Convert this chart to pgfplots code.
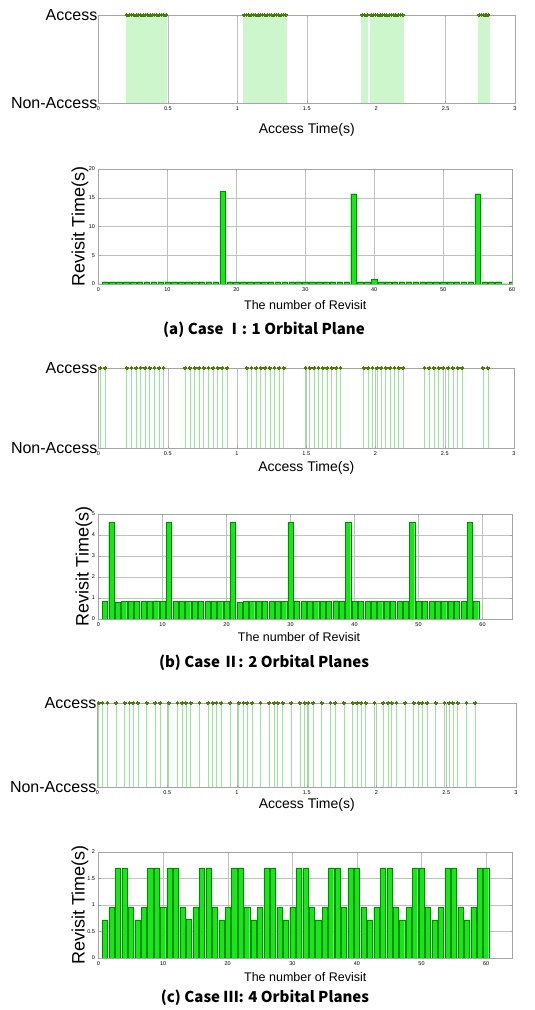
\documentclass[border=0pt]{standalone}
\usepackage{pgfplots}
\pgfplotsset{compat=1.18}
\usepackage{fontspec}
\setmainfont{Liberation Sans}
\newfontfamily\capfont{Noto Sans CJK KR}

\definecolor{stemc}{RGB}{150,232,150}
\definecolor{stemd}{RGB}{205,246,205}
\definecolor{dotc}{RGB}{70,125,0}
\definecolor{barfill}{RGB}{25,230,25}
\definecolor{baredge}{RGB}{0,140,0}
\definecolor{framec}{RGB}{165,165,165}

\pgfplotsset{
  base/.style={scale only axis, anchor=south west,
    axis line style={framec}, every tick/.style={framec},
    tick align=inside, major tick length=2pt,
    grid style={framec!70, line width=0.4pt},
    /pgf/number format/assume math mode=true,
    tick label style={font=\fontsize{5.5}{6}\selectfont},
    scaled ticks=false},
  acc/.style={base, xmin=0, xmax=3, ymin=0, ymax=1,
    xtick={0,0.5,1,1.5,2,2.5,3}, xticklabels={0,0.5,1,1.5,2,2.5,3},
    ytick={0,1}, yticklabels={Non-Access,Access},
    yticklabel style={font=\fontsize{16}{16}\selectfont, inner sep=1pt},
    xmajorgrids, xlabel={Access Time(s)},
    xlabel style={font=\fontsize{14}{14}\selectfont, anchor=center}},
  rev/.style={base, xmin=0, ymin=0, xtick={0,10,...,60}, grid=major,
    xlabel={The number of Revisit}, ylabel={Revisit Time(s)},
    xlabel style={font=\fontsize{12.5}{12.5}\selectfont, anchor=center},
    ylabel style={font=\fontsize{18}{18}\selectfont, anchor=center}},
  stem/.style={ycomb, stemc, line width=0.8pt, mark=*, mark size=1.4pt,
    mark options={draw=dotc, fill=dotc, line width=0pt}},
  bars/.style={ybar, bar width=0.8, fill=barfill, draw=baredge, line width=0.3pt}
}

\begin{document}
\begin{tikzpicture}
\useasboundingbox (0,0) rectangle (535pt,1010pt);

% ---------- (a) access ----------
\begin{axis}[acc, at={(98.5pt,907pt)}, width=416.5pt, height=88pt,
  xlabel style={at={(axis description cs:0.5,-0.307)}}]
\addplot[stem, stemd, line width=2.5pt] coordinates {
(0.204,1)(0.221,1)(0.237,1)(0.254,1)(0.271,1)(0.287,1)(0.304,1)(0.321,1)(0.337,1)
(0.354,1)(0.371,1)(0.387,1)(0.404,1)(0.421,1)(0.437,1)(0.454,1)(0.471,1)(0.487,1)
(1.049,1)(1.066,1)(1.082,1)(1.099,1)(1.116,1)(1.132,1)(1.149,1)(1.166,1)(1.182,1)(1.199,1)
(1.216,1)(1.232,1)(1.249,1)(1.266,1)(1.282,1)(1.299,1)(1.316,1)(1.332,1)(1.349,1)
(1.900,1)(1.917,1)(1.934,1)
(1.963,1)(1.979,1)(1.995,1)(2.012,1)(2.028,1)(2.044,1)(2.061,1)(2.077,1)(2.093,1)(2.110,1)
(2.126,1)(2.142,1)(2.158,1)(2.175,1)(2.191,1)
(2.743,1)(2.759,1)(2.775,1)(2.791,1)(2.793,1)(2.808,1)};
\node[font=\fontsize{5}{5}\selectfont] at (axis description cs:0.975,-0.284) {x\,10\textsuperscript{4}};
\end{axis}

% ---------- (a) revisit ----------
\begin{axis}[rev, at={(98.5pt,726pt)}, width=413.5pt, height=115pt,
  xmax=60, ymax=20, ytick={0,5,10,15,20},
  xlabel style={at={(axis description cs:0.5,-0.183)}},
  ylabel style={at={(axis description cs:-0.0447,0.5)}}]
\addplot[bars] coordinates {
(1,0.4)(2,0.4)(3,0.4)(4,0.4)(5,0.4)(6,0.4)(7,0.4)(8,0.4)(9,0.4)(10,0.4)
(11,0.4)(12,0.4)(13,0.4)(14,0.4)(15,0.4)(16,0.4)(17,0.4)(18,16.1)(19,0.4)(20,0.4)
(21,0.4)(22,0.4)(23,0.4)(24,0.4)(25,0.4)(26,0.4)(27,0.4)(28,0.4)(29,0.4)(30,0.4)
(31,0.4)(32,0.4)(33,0.4)(34,0.4)(35,0.4)(36,0.4)(37,15.7)(38,0.4)(39,0.4)(40,0.8)
(41,0.4)(42,0.4)(43,0.4)(44,0.4)(45,0.4)(46,0.4)(47,0.4)(48,0.4)(49,0.4)(50,0.4)
(51,0.4)(52,0.4)(53,0.4)(54,0.4)(55,15.7)(56,0.4)(57,0.4)(58,0.4)(59,0.05)(60,0.4)};
\end{axis}

\node[font=\capfont\bfseries\fontsize{15}{15}\selectfont] at (264pt,680pt) {(a) Case Ⅰ: 1 Orbital Plane};

% ---------- (b) access ----------
\begin{axis}[acc, at={(98.5pt,562pt)}, width=415.5pt, height=80pt,
  xlabel style={at={(axis description cs:0.5,-0.25)}}]
\addplot[stem] coordinates {
(0.012,1)(0.048,1)
(0.205,1)(0.238,1)(0.271,1)(0.304,1)(0.337,1)(0.371,1)(0.404,1)(0.437,1)(0.470,1)
(0.627,1)(0.660,1)(0.694,1)(0.727,1)(0.761,1)(0.794,1)(0.827,1)(0.861,1)(0.894,1)(0.928,1)
(1.072,1)(1.105,1)(1.138,1)(1.171,1)(1.204,1)(1.238,1)(1.271,1)(1.304,1)(1.337,1)
(1.494,1)(1.526,1)(1.557,1)(1.589,1)(1.620,1)(1.652,1)(1.684,1)(1.715,1)(1.747,1)
(1.916,1)(1.948,1)(1.979,1)(2.011,1)(2.042,1)(2.074,1)(2.105,1)(2.137,1)(2.168,1)(2.200,1)
(2.354,1)(2.388,1)(2.422,1)(2.456,1)(2.490,1)(2.525,1)(2.559,1)(2.593,1)(2.627,1)
(2.776,1)(2.812,1)};
\node[font=\fontsize{5}{5}\selectfont] at (axis description cs:0.974,-0.44) {x\,10\textsuperscript{4}};
\end{axis}

% ---------- (b) revisit ----------
\begin{axis}[rev, at={(98.5pt,391pt)}, width=413.5pt, height=105pt,
  xmax=64.6, ymax=5, ytick={0,1,2,3,4,5},
  xlabel style={at={(axis description cs:0.485,-0.171)}},
  ylabel style={at={(axis description cs:-0.035,0.5)}}]
\addplot[bars] coordinates {
(1,0.85)(2,4.6)(3,0.8)(4,0.85)(5,0.85)(6,0.85)(7,0.85)(8,0.85)(9,0.87)(10,0.85)
(11,4.6)(12,0.85)(13,0.85)(14,0.85)(15,0.85)(16,0.85)(17,0.85)(18,0.85)(19,0.85)(20,0.85)
(21,4.6)(22,0.8)(23,0.85)(24,0.85)(25,0.85)(26,0.85)(27,0.85)(28,0.85)(29,0.85)(30,4.6)
(31,0.85)(32,0.85)(33,0.85)(34,0.85)(35,0.85)(36,0.85)(37,0.87)(38,0.85)(39,4.6)(40,0.85)
(41,0.85)(42,0.85)(43,0.85)(44,0.85)(45,0.85)(46,0.85)(47,0.85)(48,0.85)(49,4.6)(50,0.85)
(51,0.85)(52,0.85)(53,0.85)(54,0.85)(55,0.85)(56,0.85)(57,0.85)(58,4.6)(59,0.85)};
\end{axis}

\node[font=\capfont\bfseries\fontsize{15}{15}\selectfont] at (264pt,347pt) {(b) Case Ⅱ: 2 Orbital Planes};

% ---------- (c) access ----------
\begin{axis}[acc, at={(97.5pt,223pt)}, width=418.5pt, height=84pt,
  xlabel style={at={(axis description cs:0.5,-0.214)}}]
\addplot[stem] coordinates {
(0.010,1)(0.036,1)(0.071,1)(0.133,1)(0.195,1)(0.229,1)(0.256,1)(0.290,1)(0.352,1)(0.414,1)
(0.449,1)(0.511,1)(0.573,1)(0.607,1)(0.634,1)(0.669,1)(0.731,1)(0.793,1)(0.827,1)(0.853,1)
(0.888,1)(0.950,1)(1.012,1)(1.047,1)(1.073,1)(1.108,1)(1.169,1)(1.231,1)(1.266,1)(1.292,1)
(1.327,1)(1.389,1)(1.451,1)(1.485,1)(1.512,1)(1.546,1)(1.608,1)(1.670,1)(1.705,1)(1.767,1)
(1.829,1)(1.863,1)(1.890,1)(1.924,1)(1.986,1)(2.048,1)(2.083,1)(2.109,1)(2.144,1)(2.206,1)
(2.268,1)(2.302,1)(2.329,1)(2.363,1)(2.425,1)(2.487,1)(2.522,1)(2.548,1)(2.583,1)(2.645,1)
(2.707,1)};
\node[font=\fontsize{5}{5}\selectfont] at (axis description cs:0.969,-0.357) {x\,10\textsuperscript{4}};
\end{axis}

% ---------- (c) revisit ----------
\begin{axis}[rev, at={(98.5pt,52pt)}, width=413.5pt, height=106pt,
  xmax=64, ymax=2, ytick={0,0.5,1,1.5,2},
  xlabel style={at={(axis description cs:0.5,-0.179)}},
  ylabel style={at={(axis description cs:-0.0447,0.5)}}]
\addplot[bars] coordinates {
(1,0.72)(2,0.95)(3,1.7)(4,1.7)(5,0.95)(6,0.72)(7,0.95)(8,1.7)(9,1.7)(10,0.95)
(11,1.7)(12,1.7)(13,0.95)(14,0.73)(15,0.95)(16,1.7)(17,1.7)(18,0.95)(19,0.72)(20,0.95)
(21,1.7)(22,1.7)(23,0.95)(24,0.72)(25,0.95)(26,1.7)(27,1.7)(28,0.95)(29,0.72)(30,0.95)
(31,1.7)(32,1.7)(33,0.95)(34,0.72)(35,0.95)(36,1.7)(37,1.7)(38,0.95)(39,1.7)(40,1.7)
(41,0.95)(42,0.72)(43,0.95)(44,1.7)(45,1.7)(46,0.95)(47,0.72)(48,0.95)(49,1.7)(50,1.7)
(51,0.95)(52,0.72)(53,0.95)(54,1.7)(55,1.7)(56,0.95)(57,0.72)(58,0.95)(59,1.7)(60,1.7)};
\end{axis}

\node[font=\capfont\bfseries\fontsize{15}{15}\selectfont] at (265pt,12pt) {(c) Case Ⅲ: 4 Orbital Planes};
\end{tikzpicture}
\end{document}
